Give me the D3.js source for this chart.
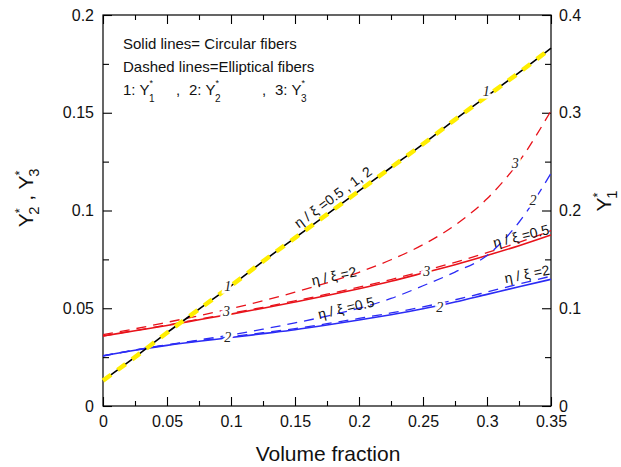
<!DOCTYPE html>
<html lang="en">
<head>
  <meta charset="UTF-8">
  <title>Volume fraction chart</title>
  <style>
    body { margin: 0; background: #fff; }
    text { font-family: Arial, "Liberation Sans", sans-serif; }
    .num { font-family: "Times New Roman", "Liberation Serif", serif; font-style: italic; }
  </style>
</head>
<body>
  <svg id="chart" width="621" height="467"></svg>

  <script src="https://d3js.org/d3.v7.min.js"></script>
  <script>
    // volume fraction steps
    const fraction = [0, 0.025, 0.05, 0.075, 0.1, 0.125, 0.15, 0.175, 0.2, 0.225, 0.25, 0.275, 0.3, 0.325, 0.35];

    // Y1* (right axis) - circular and elliptical coincide
    const y1All = [0.026, 0.050, 0.075, 0.099, 0.123, 0.148, 0.172, 0.196, 0.220, 0.244, 0.268, 0.293, 0.317, 0.341, 0.366];

    // Y3* (left axis)
    const y3Circular = [0.0358, 0.0385, 0.0412, 0.0441, 0.0470, 0.0500, 0.0532, 0.0565, 0.0600, 0.0638, 0.0680, 0.0723, 0.0770, 0.0820, 0.0875];
    const y3Ellip2 = [0.0365, 0.0395, 0.0428, 0.0462, 0.0498, 0.0538, 0.0582, 0.0630, 0.0684, 0.0748, 0.0825, 0.0925, 0.1060, 0.1250, 0.1510];
    const y3Ellip05 = [0.0358, 0.0386, 0.0414, 0.0444, 0.0474, 0.0505, 0.0538, 0.0572, 0.0608, 0.0647, 0.0690, 0.0735, 0.0784, 0.0837, 0.0897];

    // Y2* (left axis)
    const y2Circular = [0.0256, 0.0285, 0.0310, 0.0331, 0.0350, 0.0370, 0.0390, 0.0414, 0.0440, 0.0467, 0.0497, 0.0532, 0.0571, 0.0610, 0.0648];
    const y2Ellip05 = [0.0258, 0.0287, 0.0313, 0.0338, 0.0364, 0.0393, 0.0425, 0.0460, 0.0500, 0.0550, 0.0615, 0.0685, 0.0770, 0.0940, 0.1190];
    const y2Ellip2 = [0.0256, 0.0286, 0.0312, 0.0334, 0.0354, 0.0375, 0.0396, 0.0421, 0.0448, 0.0476, 0.0507, 0.0543, 0.0583, 0.0624, 0.0664];

    const xTicks = [0, 0.05, 0.1, 0.15, 0.2, 0.25, 0.3, 0.35];
    const yLeftTicks = [0, 0.05, 0.1, 0.15, 0.2];
    const yRightTicks = [0, 0.1, 0.2, 0.3, 0.4];

    const svg = d3.select("#chart");
    const mLeft = 103, mRight = 551, mTop = 15, mBottom = 406;

    const x = d3.scaleLinear().domain([0, 0.35]).range([mLeft, mRight]);
    const yL = d3.scaleLinear().domain([0, 0.2]).range([mBottom, mTop]);
    const yR = d3.scaleLinear().domain([0, 0.4]).range([mBottom, mTop]);

    const red = "#e8121a", blue = "#2b2bf5";

    // frame
    svg.append("rect")
      .attr("x", mLeft).attr("y", mTop)
      .attr("width", mRight - mLeft).attr("height", mBottom - mTop)
      .attr("fill", "none").attr("stroke", "#000").attr("stroke-width", 1.2);

    function styleAxis(g) {
      g.select(".domain").remove();
      g.selectAll("line").attr("stroke", "#000").attr("stroke-width", 1.1);
      g.selectAll("text").attr("font-size", "16px").attr("fill", "#111");
    }

    const fmt = d => String(+d.toFixed(2));
    const minorX = [0.025, 0.075, 0.125, 0.175, 0.225, 0.275, 0.325];

    // x axes (bottom with labels, top ticks only)
    svg.append("g").attr("transform", `translate(0,${mBottom})`)
      .call(d3.axisBottom(x).tickValues(xTicks).tickSize(-9).tickPadding(10).tickFormat(fmt))
      .call(styleAxis);
    svg.append("g").attr("transform", `translate(0,${mBottom})`)
      .call(d3.axisBottom(x).tickValues(minorX).tickSize(-5).tickFormat(""))
      .call(styleAxis);
    svg.append("g").attr("transform", `translate(0,${mTop})`)
      .call(d3.axisTop(x).tickValues(xTicks).tickSize(-9).tickFormat(""))
      .call(styleAxis);
    svg.append("g").attr("transform", `translate(0,${mTop})`)
      .call(d3.axisTop(x).tickValues(minorX).tickSize(-5).tickFormat(""))
      .call(styleAxis);

    // left y axis
    svg.append("g").attr("transform", `translate(${mLeft},0)`)
      .call(d3.axisLeft(yL).tickValues(yLeftTicks).tickSize(-9).tickPadding(9).tickFormat(fmt))
      .call(styleAxis);
    svg.append("g").attr("transform", `translate(${mLeft},0)`)
      .call(d3.axisLeft(yL).tickValues([0.025, 0.075, 0.125, 0.175]).tickSize(-6).tickFormat(""))
      .call(styleAxis);

    // right y axis
    svg.append("g").attr("transform", `translate(${mRight},0)`)
      .call(d3.axisRight(yR).tickValues(yRightTicks).tickSize(-9).tickPadding(8).tickFormat(fmt))
      .call(styleAxis);
    svg.append("g").attr("transform", `translate(${mRight},0)`)
      .call(d3.axisRight(yR).tickValues([0.05, 0.15, 0.25, 0.35]).tickSize(-6).tickFormat(""))
      .call(styleAxis);

    // curves
    function drawCurve(values, yScale, color, width, dash) {
      const line = d3.line()
        .x((d, i) => x(fraction[i]))
        .y(d => yScale(d))
        .curve(d3.curveMonotoneX);
      svg.append("path")
        .datum(values)
        .attr("d", line)
        .attr("fill", "none")
        .attr("stroke", color)
        .attr("stroke-width", width)
        .attr("stroke-dasharray", dash || null);
    }

    drawCurve(y3Ellip2, yL, red, 1.3, "10,7");
    drawCurve(y3Ellip05, yL, red, 1.3, "10,7");
    drawCurve(y3Circular, yL, red, 1.6);
    drawCurve(y2Ellip05, yL, blue, 1.3, "10,7");
    drawCurve(y2Ellip2, yL, blue, 1.3, "10,7");
    drawCurve(y2Circular, yL, blue, 1.6);
    drawCurve(y1All, yR, "#000", 1.6);
    drawCurve(y1All, yR, "#ffee00", 4.5, "10,8");

    // curve number labels (italic serif, with white halo to break the line)
    const numLabels = [
      { t: "1", fx: 0.0975, fy: 0.123, s: yR },
      { t: "1", fx: 0.2995, fy: 0.322, s: yR },
      { t: "3", fx: 0.0965, fy: 0.0486, s: yL },
      { t: "2", fx: 0.0975, fy: 0.0353, s: yL },
      { t: "3", fx: 0.253, fy: 0.0693, s: yL },
      { t: "2", fx: 0.263, fy: 0.0504, s: yL },
      { t: "3", fx: 0.322, fy: 0.1245, s: yL },
      { t: "2", fx: 0.336, fy: 0.1053, s: yL }
    ];
    svg.selectAll(".num")
      .data(numLabels)
      .enter()
      .append("text")
      .attr("class", "num")
      .attr("x", d => x(d.fx))
      .attr("y", d => d.s(d.fy) + 5)
      .attr("text-anchor", "middle")
      .attr("font-size", "14px")
      .attr("fill", "#222")
      .attr("stroke", "#fff")
      .attr("stroke-width", 5)
      .attr("paint-order", "stroke")
      .text(d => d.t);

    // eta/xi labels along the curves
    const etaLabels = [
      { t: "η / ξ =0.5 , 1, 2", px: 333, py: 197, a: -36.5 },
      { t: "η / ξ =2", px: 334, py: 276, a: -12 },
      { t: "η / ξ =0.5", px: 346, py: 308, a: -13 },
      { t: "η / ξ =0.5", px: 521, py: 236, a: -14 },
      { t: "η / ξ =2", px: 527, py: 274, a: -11 }
    ];
    svg.selectAll(".eta")
      .data(etaLabels)
      .enter()
      .append("text")
      .attr("class", "eta")
      .attr("transform", d => `translate(${d.px},${d.py}) rotate(${d.a})`)
      .attr("text-anchor", "middle")
      .attr("dy", "0.35em")
      .attr("font-size", "14px")
      .attr("fill", "#111")
      .text(d => d.t);

    // legend text
    const legend = svg.append("g").attr("font-size", "15px").attr("fill", "#111");
    legend.append("text").attr("x", 123).attr("y", 49).text("Solid lines= Circular fibers");
    legend.append("text").attr("x", 123).attr("y", 72).text("Dashed lines=Elliptical fibers");
    const l3 = legend.append("text").attr("y", 95);
    const legendItems = [["1: Y", "1", 123], ["2: Y", "2", 189], ["3: Y", "3", 275]];
    legendItems.forEach((p, i) => {
      if (i > 0) l3.append("tspan").attr("x", p[2] - 13).attr("y", 95).text(",");
      l3.append("tspan").attr("x", p[2]).attr("y", 95).text(p[0]);
      l3.append("tspan").attr("font-size", "9px").attr("dy", -9).text("*");
      l3.append("tspan").attr("font-size", "10px").attr("dx", -4).attr("dy", 16).text(p[1]);
    });

    // axis titles
    svg.append("text")
      .attr("x", (mLeft + mRight) / 2 + 1).attr("y", 461)
      .attr("text-anchor", "middle")
      .attr("font-size", "21px").attr("fill", "#111")
      .text("Volume fraction");

    function starSub(el, sub, big) {
      el.append("tspan").text("Y");
      el.append("tspan").attr("font-size", big * 0.6 + "px").attr("dy", -big * 0.45).text("*");
      el.append("tspan").attr("font-size", big * 0.7 + "px").attr("dx", -big * 0.3).attr("dy", big * 0.75).text(sub);
    }

    const yLeftTitle = svg.append("text")
      .attr("transform", "translate(33,198) rotate(-90)")
      .attr("text-anchor", "middle")
      .style("white-space", "pre")
      .attr("font-size", "21px").attr("fill", "#111");
    starSub(yLeftTitle, "2", 21);
    yLeftTitle.append("tspan").attr("dy", -21 * 0.3).text(" , ");
    starSub(yLeftTitle, "3", 21);

    const yRightTitle = svg.append("text")
      .attr("transform", "translate(611,201) rotate(-90)")
      .attr("text-anchor", "middle")
      .attr("font-size", "21px").attr("fill", "#111");
    starSub(yRightTitle, "1", 21);
  </script>
</body>
</html>
